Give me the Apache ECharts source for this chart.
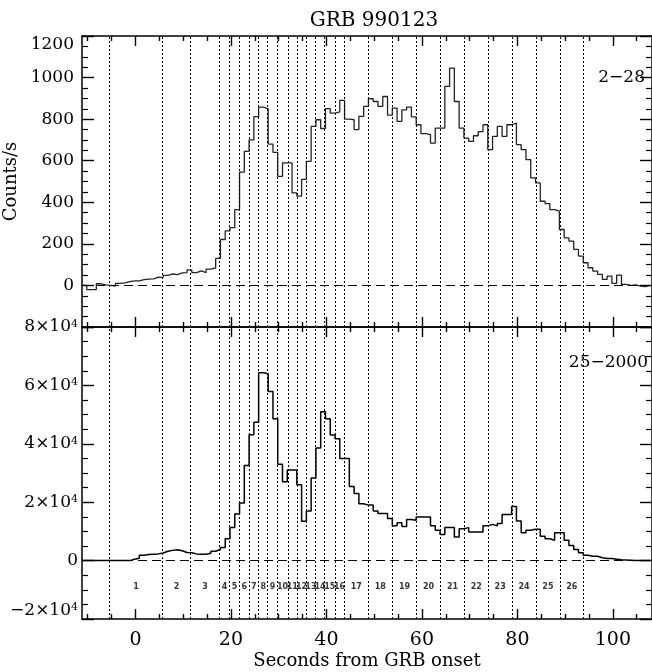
<!DOCTYPE html>
<html><head><meta charset="utf-8">
<script src="https://cdn.jsdelivr.net/npm/echarts@6/dist/echarts.min.js"></script>
<style>html,body{margin:0;padding:0;background:#fff}#c{width:652px;height:672px}</style>
</head><body><div id="c"></div>
<script>
// ---- data ----
const titleText = 'GRB 990123';
const binStart = -11.2;   // start time of first bin (s)
const binWidth = 1;       // bin width (s)
// 2-28 keV counts/s, one value per bin
const lowCounts = [
  0,-20,-20,8,3,0,-3,10,12,18,22,22,28,30,32,40,38,48,55,52,60,62,75,62,70,62,78,85,130,221,
  262,278,365,545,645,700,812,858,850,680,640,525,590,590,445,430,510,597,765,797,755,851,829,835,890,800,
  797,750,813,861,898,885,861,909,819,853,789,845,858,811,773,730,725,685,757,757,958,1045,885,757,
  709,693,720,740,773,653,717,765,717,773,781,677,653,605,517,493,405,394,365,357,269,229,213,173,
  141,109,85,69,53,29,45,10,50,5,0,3,-3,-6,0
];
// 25-2000 keV counts/s, one value per bin
const highCounts = [
  0,0,0,0,0,0,0,0,0,0,500,800,1800,2100,2200,2300,2600,3200,3500,3700,3400,2800,2700,2300,2200,2200,2500,3200,3800,4500,
  7500,11300,16000,19700,32600,43100,47400,64300,64000,57900,48600,33000,27000,31000,31000,26000,13500,17000,28300,38600,51000,48600,43000,41700,35000,35000,
  25400,23000,19500,19000,19000,17000,16100,16100,14400,11900,13000,11700,14100,13800,14900,14900,14900,11900,10400,8900,11300,11300,8100,10900,
  11300,9800,9800,9800,11900,12400,11900,12700,15800,15800,18500,13600,9500,10400,10700,10700,8300,7500,7000,9500,9500,7000,5200,3800,
  2700,1800,1500,1500,1000,700,700,500,300,200,100,0,0,0,0
];
// interval boundaries (s)
const boundaries = [-5.5,5.7,11.5,17.6,19.7,21.8,23.8,25.8,27.7,29.7,31.9,33.8,35.8,37.7,39.6,41.8,43.7,
  48.8,53.8,58.9,63.9,68.9,73.9,78.9,83.9,88.9,93.9];
const intervalNames = ['1','2','3','4','5','6','7','8','9','10','11','12','13','14','15','16','17','18','19','20','21','22','23','24','25','26'];
const xTickLabels = [0,20,40,60,80,100];
const xMinorTicks = [-10,-5,5,10,15,25,30,35,45,50,55,65,70,75,85,90,95,105];
const lowBand = '2\u221228';
const highBand = '25\u22122000';
const yTitle = 'Counts/s';
const xTitle = 'Seconds from GRB onset';

// ---- build ----
const X_MIN = -11.2, X_MAX = 108.2;
const SERIF = 'DejaVu Serif';
function stepData(vals){
  const d = vals.map((v,i)=>[binStart + i*binWidth, v]);
  d.push([binStart + vals.length*binWidth, vals[vals.length-1]]);
  return d;
}
const lineBlack = {color:'#000', width:1.5};
function xAx(grid, pos, major, extra){
  return Object.assign({
    type:'value', gridIndex:grid, position:pos, min:X_MIN, max:X_MAX,
    axisLine:{show:major, onZero:false, lineStyle:lineBlack},
    axisTick:{show:true, inside:true, length: major?10:5, customValues: major?xTickLabels:xMinorTicks, lineStyle:{color:'#000',width:1.4}},
    axisLabel:{show:false}, splitLine:{show:false}
  }, extra||{});
}
const supFmt = v => {
  if (v === 0) return '{a|0}';
  const m = v/10000;
  return '{a|' + (m<0?'\u2212':'') + Math.abs(m) + '\u00d710}{s|4}';
};
function yAx(grid, pos, min, max, interval, labels){
  const a = {
    type:'value', gridIndex:grid, position:pos, min:min, max:max, interval:interval,
    axisLine:{show:true, onZero:false, lineStyle:lineBlack},
    axisTick:{show:true, inside:true, length:12, lineStyle:{color:'#000',width:1.4}},
    minorTick:{show:true, splitNumber:4, length:6, lineStyle:{color:'#000',width:1.2}},
    splitLine:{show:false},
    axisLabel:{show:false}
  };
  if (labels) a.axisLabel = labels;
  return a;
}
const vLines = boundaries.map(b=>({xAxis:b}));
function marks(){
  return {
    silent:true, symbol:['none','none'], label:{show:false},
    lineStyle:{color:'#000', width:1, type:[2,2]},
    data: vLines.concat([{yAxis:0, lineStyle:{color:'#000', width:1.2, type:[9,5]}}])
  };
}
const mids = intervalNames.map((n,i)=>({name:n, value:[(boundaries[i]+boundaries[i+1])/2, -9000]}));

const option = {
  animation:false,
  backgroundColor:'#fff',
  title:{text:titleText, left:369, top:6, textAlign:'center',
    textStyle:{fontFamily:SERIF, fontSize:20, fontWeight:'normal', color:'#000'}},
  grid:[
    {left:82, right:0, top:36, height:291, outerBoundsMode:'none', containLabel:false},
    {left:82, right:0, top:327, height:292, outerBoundsMode:'none', containLabel:false}
  ],
  xAxis:[
    xAx(0,'bottom',true), xAx(0,'bottom',false), xAx(0,'top',true), xAx(0,'top',false),
    xAx(1,'bottom',true,{
      axisLabel:{show:true, customValues:xTickLabels, margin:12, fontFamily:SERIF, fontSize:19, color:'#000'},
      name:xTitle, nameLocation:'middle', nameGap:33,
      nameTextStyle:{fontFamily:SERIF, fontSize:18, color:'#000'}
    }),
    xAx(1,'bottom',false), xAx(1,'top',true), xAx(1,'top',false)
  ],
  yAxis:[
    Object.assign(yAx(0,'left',-200,1200,200,{
      show:true, margin:8, fontFamily:SERIF, fontSize:17, color:'#000',
      verticalAlignMaxLabel:'top',
      formatter: v => v < 0 ? '' : String(v)
    }), {name:yTitle, nameLocation:'middle', nameRotate:90, nameGap:62,
      nameTextStyle:{fontFamily:SERIF, fontSize:18, color:'#000'}}),
    yAx(0,'right',-200,1200,200,null),
    yAx(1,'left',-20000,80000,20000,{
      show:true, margin:4, color:'#000', verticalAlignMinLabel:'bottom',
      formatter: supFmt,
      rich:{a:{fontFamily:SERIF, fontSize:17, color:'#000'}, s:{fontFamily:SERIF, fontSize:11, color:'#000', verticalAlign:'top'}}
    }),
    yAx(1,'right',-20000,80000,20000,null)
  ],
  graphic:[
    {type:'text', right:7, top:69, style:{text:lowBand, font:'17px "DejaVu Serif"', fill:'#000'}},
    {type:'text', right:4, top:354, style:{text:highBand, font:'17px "DejaVu Serif"', fill:'#000'}}
  ],
  series:[
    {type:'line', xAxisIndex:0, yAxisIndex:0, step:'end', symbol:'none', data:stepData(lowCounts),
      lineStyle:{color:'#222', width:1.3}, markLine:marks(), z:3},
    {type:'line', xAxisIndex:4, yAxisIndex:2, step:'end', symbol:'none', data:stepData(highCounts),
      lineStyle:{color:'#000', width:1.5}, markLine:marks(), z:3},
    {type:'scatter', xAxisIndex:4, yAxisIndex:2, symbolSize:0, data:mids, silent:true,
      label:{show:true, position:'inside', formatter:p=>p.name, fontFamily:'DejaVu Sans', fontSize:8, fontWeight:'bold', color:'#000'}}
  ]
};
const chart = echarts.init(document.getElementById('c'), null, {renderer:'canvas'});
chart.setOption(option);
</script>
</body></html>
